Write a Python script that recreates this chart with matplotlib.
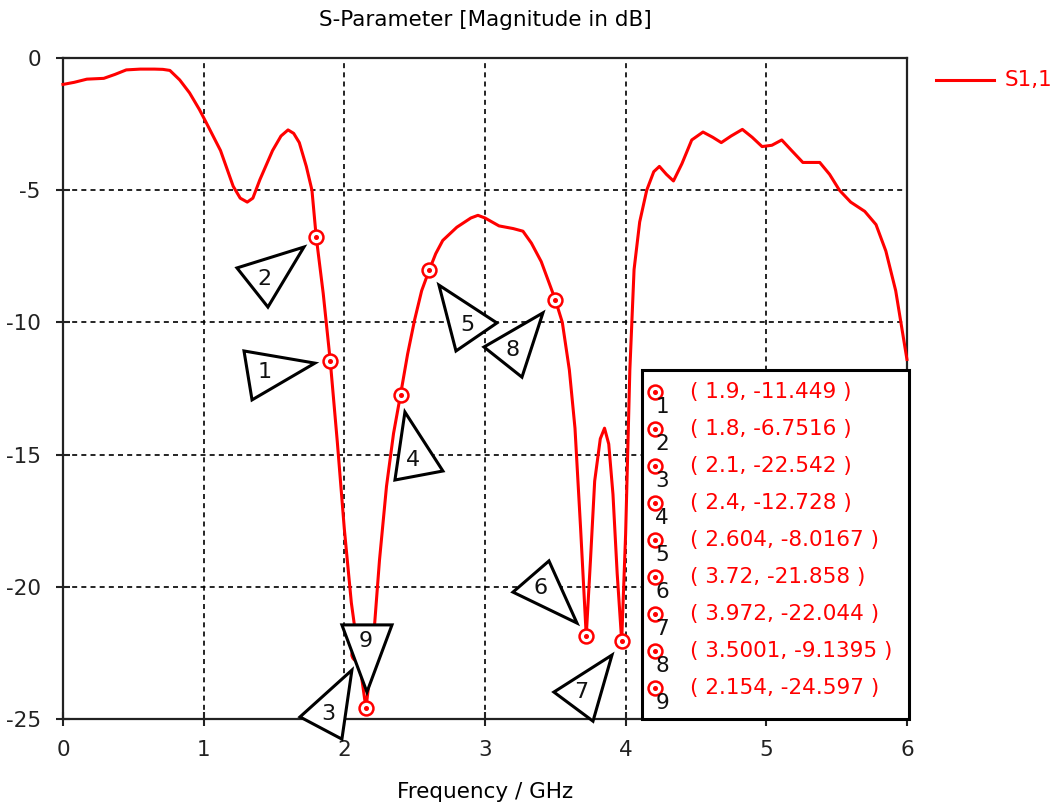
import matplotlib
matplotlib.use("Agg")
import matplotlib.pyplot as plt
from matplotlib.patches import Polygon, Rectangle
from matplotlib.lines import Line2D

plt.rcParams['font.family'] = ['DejaVu Sans']

# S1,1 magnitude (dB) versus frequency (GHz)
freq = [0.0, 0.08, 0.17, 0.29, 0.37, 0.45, 0.55, 0.65, 0.71, 0.76, 0.83, 0.9,
        0.97, 1.02, 1.12, 1.21, 1.26, 1.31, 1.35, 1.4, 1.49, 1.55, 1.6, 1.64,
        1.68, 1.73, 1.77, 1.8, 1.85, 1.9, 1.95, 2.0, 2.05, 2.1, 2.154, 2.2,
        2.25, 2.3, 2.35, 2.4, 2.45, 2.5, 2.55, 2.604, 2.65, 2.7, 2.8, 2.9,
        2.95, 3.0, 3.1, 3.2, 3.27, 3.33, 3.4, 3.5, 3.55, 3.6, 3.64, 3.68,
        3.72, 3.75, 3.78, 3.82, 3.85, 3.88, 3.91, 3.94, 3.972, 4.0, 4.03,
        4.06, 4.1, 4.15, 4.2, 4.24, 4.29, 4.34, 4.4, 4.47, 4.55, 4.62, 4.68,
        4.75, 4.83, 4.9, 4.97, 5.04, 5.11, 5.18, 5.26, 5.38, 5.45, 5.52, 5.6,
        5.7, 5.78, 5.85, 5.92, 6.0]
s11_db = [-1.0, -0.92, -0.8, -0.77, -0.62, -0.45, -0.42, -0.42, -0.43, -0.47,
          -0.83, -1.32, -1.95, -2.46, -3.5, -4.85, -5.3, -5.45, -5.3, -4.6,
          -3.5, -2.95, -2.72, -2.85, -3.2, -4.1, -5.0, -6.7516, -8.9, -11.449,
          -14.5, -17.8, -20.6, -22.542, -24.597, -22.5, -19.0, -16.2, -14.2,
          -12.728, -11.2, -9.9, -8.8, -8.0167, -7.4, -6.9, -6.4, -6.05, -5.95,
          -6.05, -6.35, -6.45, -6.55, -7.0, -7.7, -9.1395, -10.0, -11.8,
          -14.0, -17.8, -21.858, -19.0, -16.0, -14.4, -14.0, -14.6, -16.5,
          -19.5, -22.044, -18.0, -11.8, -8.0, -6.2, -5.0, -4.3, -4.1, -4.4,
          -4.65, -4.0, -3.1, -2.8, -3.0, -3.2, -2.95, -2.7, -3.0, -3.35, -3.3,
          -3.1, -3.5, -3.95, -3.95, -4.4, -5.0, -5.45, -5.8, -6.3, -7.3, -8.8,
          -11.4]

# marker readouts
marker_ids = ['1', '2', '3', '4', '5', '6', '7', '8', '9']
marker_freq = [1.9, 1.8, 2.1, 2.4, 2.604, 3.72, 3.972, 3.5001, 2.154]
marker_db = [-11.449, -6.7516, -22.542, -12.728, -8.0167, -21.858, -22.044,
             -9.1395, -24.597]
marker_text = ['1.9', '1.8', '2.1', '2.4', '2.604', '3.72', '3.972', '3.5001',
               '2.154']
marker_val_text = ['-11.449', '-6.7516', '-22.542', '-12.728', '-8.0167',
                   '-21.858', '-22.044', '-9.1395', '-24.597']

x_ticks = [0, 1, 2, 3, 4, 5, 6]
y_ticks = [0, -5, -10, -15, -20, -25]

# callout triangles (data units) and the number placed inside each
callouts = {
    '1': ([(1.287, -11.08), (1.791, -11.54), (1.344, -12.93)], (1.436, -11.88)),
    '2': ([(1.237, -7.94), (1.713, -7.15), (1.457, -9.42)], (1.429, -8.36)),
    '3': ([(2.054, -23.15), (1.685, -24.92), (1.983, -25.76)], (1.884, -24.81)),
    '4': ([(2.431, -13.39), (2.701, -15.62), (2.360, -15.96)], (2.488, -15.20)),
    '5': ([(2.673, -8.59), (3.085, -10.02), (2.794, -11.08)], (2.872, -10.10)),
    '6': ([(3.455, -19.02), (3.199, -20.20), (3.654, -21.37)], (3.398, -20.05)),
    '7': ([(3.903, -22.58), (3.490, -23.98), (3.768, -25.08)], (3.682, -23.98)),
    '8': ([(3.412, -9.64), (2.993, -10.93), (3.263, -12.07)], (3.199, -11.04)),
    '9': ([(1.983, -21.44), (2.339, -21.44), (2.161, -23.98)], (2.154, -22.05)),
}

RED = '#ff0000'
FS = 15.5

fig = plt.figure(figsize=(10.62, 8.10), dpi=100)
ax = fig.add_axes([0.0593, 0.1123, 0.7947, 0.8161])

ax.plot(freq, s11_db, color=RED, lw=2.2, zorder=3, clip_on=False)

# markers on the curve
ax.plot(marker_freq, marker_db, ls='none', marker='o', ms=10, mfc='white',
        mec=RED, mew=1.8, zorder=5, clip_on=False)
ax.plot(marker_freq, marker_db, ls='none', marker='o', ms=2.6, mfc=RED,
        mec=RED, zorder=6, clip_on=False)

# callouts (white filled, drawn above the curve and axis lines)
for key, (verts, lab) in callouts.items():
    ax.add_patch(Polygon(verts, closed=True, fc='white', ec='black', lw=2.2,
                         zorder=7, clip_on=False))
    ax.text(lab[0], lab[1], key, fontsize=FS + 0.5, color='#111111',
            ha='center', va='center', zorder=8, clip_on=False)

ax.set_xlim(0, 6)
ax.set_ylim(-25, 0)
ax.set_xticks(x_ticks)
ax.set_xticklabels([str(v) for v in x_ticks])
ax.set_yticks(y_ticks)
ax.set_yticklabels([str(v) for v in y_ticks])
ax.tick_params(direction='inout', length=10, width=1.5, labelsize=FS,
               colors='#222222')
ax.tick_params(axis='x', pad=10)
ax.tick_params(axis='y', pad=11)
ax.grid(True, color='black', ls=(0, (3, 2.5)), lw=1.2)
for sp in ax.spines.values():
    sp.set_linewidth(1.6)
    sp.set_color('#222222')

ax.set_xlabel('Frequency / GHz', fontsize=FS, labelpad=16)
ax.set_title('S-Parameter [Magnitude in dB]', fontsize=FS, pad=23)

# marker readout table
box_l, box_r, box_t = 0.686, 1.002, 0.528
ax.add_patch(Rectangle((box_l, 0.0), box_r - box_l, box_t,
                       transform=ax.transAxes, fc='white', ec='black', lw=2.2,
                       zorder=9, clip_on=False))
row0, row_step = 0.495, 0.056
for i, mid in enumerate(marker_ids):
    yy = row0 - i * row_step
    ax.plot([0.701], [yy], transform=ax.transAxes, marker='o', ms=10,
            mfc='white', mec=RED, mew=1.8, zorder=10, clip_on=False)
    ax.plot([0.701], [yy], transform=ax.transAxes, marker='o', ms=2.6,
            mfc=RED, mec=RED, zorder=11, clip_on=False)
    ax.text(0.710, yy - 0.023, mid, transform=ax.transAxes, fontsize=FS,
            color='#111111', ha='center', va='center', zorder=11)
    ax.text(0.743, yy, f'( {marker_text[i]}, {marker_val_text[i]} )',
            transform=ax.transAxes, fontsize=FS, color=RED, ha='left',
            va='center', zorder=11)

# series legend
fig.add_artist(Line2D([936 / 1062, 994 / 1062], [1 - 80 / 810, 1 - 80 / 810],
                      color=RED, lw=2.2))
fig.text(1005 / 1062, 1 - 80 / 810, 'S1,1', color=RED, fontsize=FS,
         ha='left', va='center')

fig.savefig('out.png', dpi=100)
